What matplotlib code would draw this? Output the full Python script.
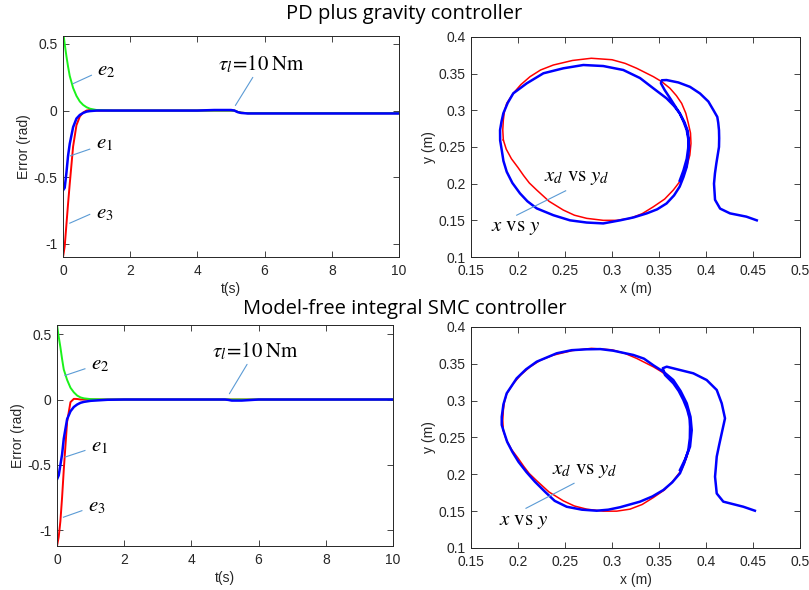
import numpy as np
import matplotlib
matplotlib.use("Agg")
import matplotlib.pyplot as plt

plt.rcParams['font.family'] = ['Liberation Sans', 'DejaVu Sans']
plt.rcParams['mathtext.fontset'] = 'stix'

# ---- error time histories ----
t = [0, 0.05, 0.1, 0.15, 0.2, 0.3, 0.4, 0.5, 0.6, 0.7, 0.8, 1.0, 1.5, 2, 3, 4,
     4.5, 5.0, 5.1, 5.2, 5.3, 5.5, 6, 7, 8, 9, 10]

# PD plus gravity
pd_e1 = [-0.60, -0.58, -0.47, -0.34, -0.25, -0.125, -0.06, -0.033, -0.018, -0.008, -0.004, 0.0, 0.0, 0.0, 0.0, 0.0,
         0.004, 0.004, 0.0, -0.012, -0.018, -0.022, -0.022, -0.022, -0.022, -0.022, -0.022]
pd_e2 = [0.60, 0.50, 0.41, 0.33, 0.26, 0.17, 0.11, 0.068, 0.042, 0.025, 0.014, 0.004, 0.0, 0.0, 0.0, 0.0,
         0.0, 0.0, 0.0, -0.01, -0.016, -0.02, -0.02, -0.02, -0.02, -0.02, -0.02]
pd_e3 = [-1.10, -1.02, -0.86, -0.70, -0.55, -0.27, -0.11, -0.045, -0.015, 0.0, 0.004, 0.0, 0.0, 0.0, 0.0, 0.0,
         0.0, 0.0, 0.0, -0.01, -0.016, -0.02, -0.02, -0.02, -0.02, -0.02, -0.02]

# model-free integral SMC
smc_e1 = [-0.61, -0.58, -0.50, -0.42, -0.30, -0.15, -0.09, -0.057, -0.038, -0.025, -0.018, -0.01, -0.002, 0.0, 0.0, 0.0,
          0.0, 0.0, -0.003, -0.008, -0.008, -0.008, 0.0, 0.0, 0.0, 0.0, 0.0]
smc_e2 = [0.57, 0.48, 0.40, 0.31, 0.23, 0.15, 0.09, 0.055, 0.03, 0.016, 0.009, 0.003, 0.0, 0.0, 0.0, 0.0,
          0.0, 0.0, 0.0, 0.0, 0.0, 0.0, 0.0, 0.0, 0.0, 0.0, 0.0]
smc_e3 = [-1.12, -1.05, -0.93, -0.75, -0.54, -0.17, -0.02, 0.005, 0.004, 0.0, 0.0, 0.0, 0.0, 0.0, 0.0, 0.0,
          0.0, 0.0, 0.0, 0.0, 0.0, 0.0, 0.0, 0.0, 0.0, 0.0, 0.0]

# ---- desired trajectory (red) ----
xd = [0.1844, 0.1838, 0.1844, 0.1855, 0.188, 0.195, 0.203, 0.2128, 0.224, 0.2376, 0.258, 0.278, 0.300,
      0.314, 0.3263, 0.344, 0.353, 0.3617, 0.3685, 0.3741, 0.3785, 0.3812, 0.3835, 0.384, 0.3828, 0.3795,
      0.374, 0.3652, 0.356, 0.344, 0.332, 0.3191, 0.305, 0.2907, 0.2731, 0.260, 0.2482, 0.233, 0.2199,
      0.212, 0.206, 0.200, 0.193, 0.1875, 0.1844]
yd = [0.2595, 0.273, 0.2868, 0.298, 0.3095, 0.3232, 0.335, 0.3459, 0.355, 0.3618, 0.368, 0.371, 0.369,
      0.364, 0.3573, 0.3459, 0.339, 0.330, 0.320, 0.3095, 0.296, 0.2823, 0.269, 0.255, 0.239, 0.223,
      0.206, 0.1913, 0.179, 0.1685, 0.159, 0.1527, 0.150, 0.150, 0.1527, 0.157, 0.164, 0.176, 0.1913,
      0.201, 0.211, 0.222, 0.234, 0.247, 0.2595]

# ---- actual trajectory, PD ----
x_pd = [0.454, 0.443, 0.4255, 0.415, 0.4096, 0.4085, 0.4095, 0.411, 0.4138, 0.414, 0.4138, 0.413, 0.412,
        0.408, 0.4025, 0.3936, 0.383, 0.3706, 0.358, 0.353, 0.352, 0.356, 0.362, 0.367, 0.372, 0.376,
        0.3795, 0.381, 0.382, 0.381, 0.3795, 0.376, 0.372, 0.366, 0.358, 0.348, 0.337, 0.323, 0.3085,
        0.2907, 0.273, 0.2553, 0.2376, 0.2199, 0.210, 0.2021, 0.194, 0.188, 0.1845, 0.1827, 0.181,
        0.1809, 0.1825, 0.1844, 0.189, 0.195, 0.2093, 0.227, 0.2482, 0.2695, 0.2907, 0.312, 0.3298,
        0.344, 0.358, 0.366, 0.372, 0.377, 0.3805, 0.3815, 0.381, 0.3795, 0.376, 0.372]
y_pd = [0.150, 0.155, 0.1595, 0.166, 0.178, 0.200, 0.214, 0.2277, 0.250, 0.262, 0.273, 0.283, 0.291,
        0.300, 0.312, 0.323, 0.332, 0.338, 0.3413, 0.341, 0.337, 0.3277, 0.316, 0.306, 0.296, 0.285,
        0.273, 0.262, 0.250, 0.237, 0.223, 0.209, 0.196, 0.184, 0.173, 0.165, 0.1595, 0.154, 0.150,
        0.1458, 0.147, 0.150, 0.157, 0.1663, 0.176, 0.1868, 0.201, 0.2162, 0.231, 0.2458, 0.259,
        0.2731, 0.285, 0.2959, 0.310, 0.3232, 0.3368, 0.3505, 0.3573, 0.3618, 0.3604, 0.355, 0.344,
        0.330, 0.3164, 0.306, 0.296, 0.284, 0.272, 0.260, 0.248, 0.234, 0.218, 0.204]

# ---- actual trajectory, SMC ----
x_smc = [0.452, 0.4397, 0.4184, 0.4114, 0.4096, 0.4105, 0.4114, 0.414, 0.4167, 0.4202, 0.4167, 0.4114,
         0.4007, 0.3865, 0.3723, 0.3582, 0.354, 0.3564, 0.3652, 0.371, 0.3759, 0.380, 0.3825, 0.383,
         0.3828, 0.3812, 0.377, 0.3723, 0.364, 0.3546, 0.343, 0.3298, 0.3085, 0.296, 0.2837, 0.268,
         0.2518, 0.239, 0.229, 0.218, 0.209, 0.2005, 0.194, 0.1885, 0.185, 0.1827, 0.1827, 0.1845,
         0.188, 0.1986, 0.2085, 0.2199, 0.2412, 0.257, 0.273, 0.2875, 0.3014, 0.3227, 0.334, 0.344,
         0.355, 0.3652, 0.373, 0.3795, 0.3835, 0.3848, 0.383, 0.378, 0.3723]
y_smc = [0.1506, 0.156, 0.1629, 0.174, 0.1968, 0.210, 0.224, 0.240, 0.2557, 0.276, 0.2964, 0.3145,
         0.328, 0.3371, 0.3416, 0.3461, 0.344, 0.3348, 0.3236, 0.313, 0.3009, 0.288, 0.276, 0.2647,
         0.249, 0.233, 0.216, 0.2014, 0.189, 0.1787, 0.170, 0.1629, 0.1553, 0.152, 0.1506, 0.152,
         0.156, 0.164, 0.176, 0.190, 0.203, 0.217, 0.2305, 0.244, 0.2575, 0.267, 0.278, 0.295,
         0.31, 0.3303, 0.3425, 0.3529, 0.3643, 0.3685, 0.3697, 0.370, 0.3678, 0.362, 0.357, 0.348,
         0.339, 0.328, 0.313, 0.2964, 0.278, 0.26, 0.2375, 0.221, 0.2059]

BLUE = (0, 0, 1)
RED = (1, 0, 0)
GREEN = (0.1, 0.95, 0.1)
PTR = '#5b9bd5'
AXC = '#262626'

fig = plt.figure(figsize=(8.09, 5.9), dpi=100)


def style(ax):
    ax.tick_params(direction='in', top=True, right=True, length=4, labelsize=10,
                   colors=AXC, width=0.6)
    ax.tick_params(axis='x', pad=5)
    ax.tick_params(axis='y', pad=4)
    for s in ax.spines.values():
        s.set_color(AXC)
        s.set_linewidth(0.7)


def err_panel(rect, e1, e2, e3, ylim, tau_xy, tau_txt, labels):
    ax = fig.add_axes(rect)
    ax.plot(t, e3, color=RED, lw=1.4)
    ax.plot(t, e2, color=GREEN, lw=1.4)
    ax.plot(t, e1, color=BLUE, lw=1.8)
    ax.set_xlim(0, 10)
    ax.set_ylim(*ylim)
    ax.set_xticks([0, 2, 4, 6, 8, 10])
    ax.set_yticks([-1, -0.5, 0, 0.5])
    ax.set_yticklabels(['-1', '-0.5', '0', '0.5'])
    ax.set_xlabel('t(s)', fontsize=10, color=AXC, labelpad=3)
    ax.set_ylabel('Error (rad)', fontsize=10, color=AXC, labelpad=2)
    style(ax)
    ax.annotate(tau_txt, xy=tau_xy[0], xytext=tau_xy[1], fontsize=15,
                ha='center', va='bottom',
                arrowprops=dict(arrowstyle='-', color=PTR, lw=0.8, shrinkA=0, shrinkB=0))
    for txt, (p, q, tp) in labels.items():
        ax.plot([p[0], q[0]], [p[1], q[1]], color=PTR, lw=0.8)
        ax.text(tp[0], tp[1], txt, fontsize=15, ha='left', va='center')
    return ax


def traj_panel(rect, xa, ya, line, txt_d, txt_a):
    ax = fig.add_axes(rect)
    ax.plot(xd, yd, color=RED, lw=1.1)
    ax.plot(xa, ya, color=BLUE, lw=1.8)
    ax.set_xlim(0.15, 0.5)
    ax.set_ylim(0.1, 0.4)
    ax.set_xticks(np.arange(0.15, 0.501, 0.05))
    ax.set_xticklabels(['0.15', '0.2', '0.25', '0.3', '0.35', '0.4', '0.45', '0.5'])
    ax.set_yticks(np.arange(0.1, 0.401, 0.05))
    ax.set_yticklabels(['0.1', '0.15', '0.2', '0.25', '0.3', '0.35', '0.4'])
    ax.set_xlabel('x (m)', fontsize=10, color=AXC, labelpad=3)
    ax.set_ylabel('y (m)', fontsize=10, color=AXC, labelpad=2)
    style(ax)
    ax.plot([line[0][0], line[1][0]], [line[0][1], line[1][1]], color=PTR, lw=0.8)
    ax.text(txt_d[0], txt_d[1], r'$x_d\ \mathrm{vs}\ y_d$', fontsize=15, ha='center', va='center')
    ax.text(txt_a[0], txt_a[1], r'$x\ \mathrm{vs}\ y$', fontsize=15, ha='center', va='center')
    return ax


err_panel([0.0779, 0.5644, 0.4153, 0.3746], pd_e1, pd_e2, pd_e3, (-1.1, 0.56),
          ((5.13, 0.038), (5.9, 0.27)), r'$\tau_l\!=\!10\;\mathrm{Nm}$',
          {r'$e_2$': ((0.30, 0.202), (0.845, 0.265), (1.0, 0.30)),
           r'$e_1$': ((0.22, -0.34), (0.795, -0.29), (0.97, -0.25)),
           r'$e_3$': ((0.20, -0.846), (0.795, -0.78), (0.97, -0.77))})

err_panel([0.0705, 0.0746, 0.4153, 0.3746], smc_e1, smc_e2, smc_e3, (-1.12, 0.57),
          ((5.13, 0.044), (5.9, 0.29)), r'$\tau_l\!=\!10\;\mathrm{Nm}$',
          {r'$e_2$': ((0.24, 0.184), (0.83, 0.235), (1.0, 0.27)),
           r'$e_1$': ((0.24, -0.44), (0.83, -0.39), (1.0, -0.36)),
           r'$e_3$': ((0.19, -0.90), (0.74, -0.85), (0.93, -0.82))})

traj_panel([0.5822, 0.5644, 0.4067, 0.3729], x_pd, y_pd,
           ((0.2507, 0.1903), (0.1986, 0.157)), (0.263, 0.2085), (0.197, 0.140))

traj_panel([0.5822, 0.0712, 0.4067, 0.3746], x_smc, y_smc,
           ((0.2596, 0.1878), (0.2085, 0.1539)), (0.2715, 0.2055), (0.206, 0.136))

fig.text(0.5, 0.976, 'PD plus gravity controller', ha='center', va='center',
         fontsize=14.5, family=['Open Sans', 'DejaVu Sans'])
fig.text(0.5, 0.476, 'Model-free integral SMC controller', ha='center', va='center',
         fontsize=14.5, family=['Open Sans', 'DejaVu Sans'])

fig.savefig('out.png', dpi=100)
